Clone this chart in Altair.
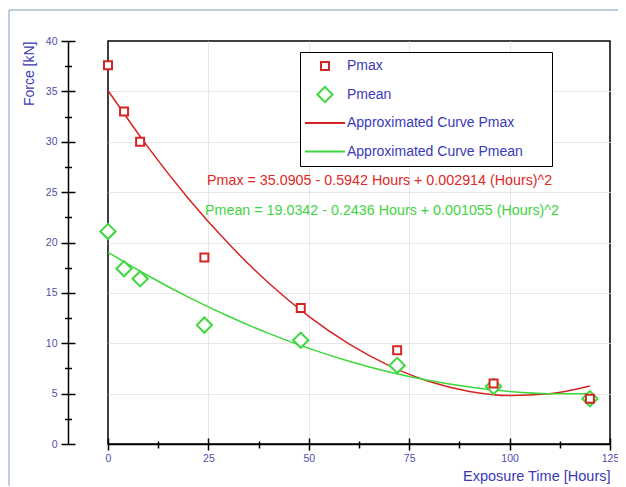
import altair as alt
import pandas as pd

# ---------------- data ----------------
HOURS = [0, 4, 8, 24, 48, 72, 96, 120]
PMAX = [37.6, 33.0, 30.0, 18.5, 13.5, 9.3, 6.0, 4.5]
PMEAN = [21.1, 17.4, 16.4, 11.8, 10.3, 7.8, 5.7, 4.5]

CURVE_HOURS = [0, 10, 20, 30, 40, 50, 60, 70, 80, 90, 100, 110, 120]
CURVE_PMAX = [35.09, 29.44, 24.37, 19.89, 15.98, 12.67, 9.93, 7.78, 6.20, 5.22, 4.81, 4.99, 5.75]
CURVE_PMEAN = [19.03, 16.70, 14.58, 12.68, 10.98, 9.49, 8.22, 7.15, 6.30, 5.66, 5.22, 5.00, 4.99]

SERIES = ["Pmax", "Pmean", "Approximated Curve Pmax", "Approximated Curve Pmean"]

X_MAJOR = [0, 25, 50, 75, 100, 125]
X_MINOR = [12.5, 37.5, 62.5, 87.5, 112.5]
Y_MAJOR = [0, 5, 10, 15, 20, 25, 30, 35, 40]
Y_MINOR = [2.5, 7.5, 12.5, 17.5, 22.5, 27.5, 32.5, 37.5]

EQ_PMAX = "Pmax = 35.0905 - 0.5942 Hours + 0.002914 (Hours)^2"
EQ_PMEAN = "Pmean = 19.0342 - 0.2436 Hours + 0.001055 (Hours)^2"

X_TITLE = "Exposure Time [Hours]"
Y_TITLE = "Force [kN]"

# ---------------- styling ----------------
FONT = "Liberation Sans"
RED = "#d42525"
GREEN = "#3cd83c"
TXT_RED = "#e02828"
TXT_GREEN = "#3fd43f"
BLUE = "#3a3ab8"
TICK_LBL = "#4f4fa8"
FRAME_BLUE = "#a9bcd6"
W, H = 502, 403
SYM = 1600  # symbol box 40 px; shapes below are drawn inside it
SQUARE = "M-0.2,-0.2H0.2V0.2H-0.2Z"
DIAMOND = "M-0.38,0L0,-0.38L0.38,0L0,0.38Z"
STROKE = "M-1,0H1"

pts = pd.DataFrame({
    "hours": HOURS + HOURS,
    "force": PMAX + PMEAN,
    "series": [SERIES[0]] * len(HOURS) + [SERIES[1]] * len(HOURS),
})
crv = pd.DataFrame({
    "hours": CURVE_HOURS + CURVE_HOURS,
    "force": CURVE_PMAX + CURVE_PMEAN,
    "series": [SERIES[2]] * len(CURVE_HOURS) + [SERIES[3]] * len(CURVE_HOURS),
})

xscale = alt.Scale(domain=[0, 125], nice=False, zero=False)
yscale = alt.Scale(domain=[0, 40], nice=False)
cscale = alt.Scale(domain=SERIES, range=[RED, GREEN, RED, GREEN])
sscale = alt.Scale(domain=SERIES, range=[SQUARE, DIAMOND, STROKE, STROKE])


def axis(**kw):
    base = dict(grid=False, domain=False, labels=False, ticks=False, title=None,
                tickColor="black", tickWidth=1.5)
    base.update(kw)
    return alt.Axis(**base)


legend = alt.Legend(
    orient="none", legendX=192, legendY=11,
    title="WW", titleOrient="right", titleOpacity=0, titleFontSize=11, titlePadding=4,
    strokeColor="black", fillColor="white", padding=4,
    clipHeight=20, rowPadding=8.5, labelOffset=1, symbolSize=SYM,
    labelFont=FONT, labelFontSize=14, labelColor=BLUE, labelLimit=400,
    symbolStrokeWidth=2,
)

# grid host (invisible)
grid = alt.Chart(pts).mark_point(opacity=0).encode(
    x=alt.X("hours:Q", scale=xscale,
            axis=axis(orient="bottom", grid=True, values=X_MAJOR[1:-1], gridColor="#e6e6e6")),
    y=alt.Y("force:Q", scale=yscale,
            axis=axis(orient="left", grid=True, values=Y_MAJOR[1:-1], gridColor="#e6e6e6")),
)

pmax_pts = alt.Chart(pts).transform_filter(alt.datum.series == SERIES[0]).mark_point(
    filled=True, fill="white", strokeWidth=2, opacity=1, size=SYM
).encode(
    x=alt.X("hours:Q", scale=xscale, axis=axis(
        orient="bottom", values=X_MAJOR, ticks=True, tickSize=6, domain=True,
        domainColor="black", domainWidth=1.5, labels=True, labelFlush=False,
        labelFont=FONT, labelFontSize=10.5, labelColor=TICK_LBL, labelPadding=3,
        title=X_TITLE, titleAnchor="end", titleFont=FONT, titleFontSize=14.5,
        titleFontWeight="normal", titleColor=BLUE, titlePadding=6)),
    y=alt.Y("force:Q", scale=yscale, axis=axis(
        orient="left", offset=40, values=Y_MAJOR, ticks=True, tickSize=7, domain=True,
        domainColor="black", domainWidth=1.5, labels=True,
        labelFont=FONT, labelFontSize=10.5, labelColor=TICK_LBL, labelPadding=4,
        title=Y_TITLE, titleAnchor="end", titleFont=FONT, titleFontSize=14,
        titleFontWeight="normal", titleColor=BLUE, titlePadding=9)),
    stroke=alt.Stroke("series:N", scale=cscale, legend=legend),
    shape=alt.Shape("series:N", scale=sscale, legend=legend),
)

pmean_pts = alt.Chart(pts).transform_filter(alt.datum.series == SERIES[1]).mark_point(
    filled=True, fill="white", strokeWidth=2, opacity=1, size=SYM
).encode(
    x=alt.X("hours:Q", scale=xscale, axis=axis(
        orient="top", offset=-H, values=X_MAJOR, ticks=True, tickSize=6)),
    y=alt.Y("force:Q", scale=yscale, axis=axis(
        orient="left", offset=33, values=Y_MAJOR, ticks=True, tickSize=7)),
    stroke=alt.Stroke("series:N", scale=cscale, legend=legend),
    shape=alt.Shape("series:N", scale=sscale, legend=legend),
)

pmax_crv = alt.Chart(crv).transform_filter(alt.datum.series == SERIES[2]).mark_line(
    strokeWidth=1.5, interpolate="monotone"
).encode(
    x=alt.X("hours:Q", scale=xscale, axis=axis(
        orient="bottom", values=X_MINOR, ticks=True, tickSize=4)),
    y=alt.Y("force:Q", scale=yscale, axis=axis(
        orient="left", offset=40, values=Y_MINOR, ticks=True, tickSize=3.5)),
    stroke=alt.Stroke("series:N", scale=cscale, legend=legend),
)

pmean_crv = alt.Chart(crv).transform_filter(alt.datum.series == SERIES[3]).mark_line(
    strokeWidth=1.5, interpolate="monotone"
).encode(
    x=alt.X("hours:Q", scale=xscale, axis=axis(
        orient="top", offset=-H, values=X_MINOR, ticks=True, tickSize=3)),
    y=alt.Y("force:Q", scale=yscale, axis=axis(
        orient="left", offset=36.5, values=Y_MINOR, ticks=True, tickSize=3.5)),
    stroke=alt.Stroke("series:N", scale=cscale, legend=legend),
)

eq1 = alt.Chart(alt.Data(values=[{"label": EQ_PMAX}])).mark_text(
    align="left", baseline="middle", font=FONT, fontSize=14.3, color=TXT_RED
).encode(x=alt.value(99), y=alt.value(140), text="label:N")

eq2 = alt.Chart(alt.Data(values=[{"label": EQ_PMEAN}])).mark_text(
    align="left", baseline="middle", font=FONT, fontSize=14.3, color=TXT_GREEN
).encode(x=alt.value(97), y=alt.value(170), text="label:N")

# page frame: top and left edges only
frame_top = alt.Chart(alt.Data(values=[{}])).mark_rule(
    stroke=FRAME_BLUE, strokeWidth=1.5
).encode(x=alt.value(-99), x2=alt.value(W + 30), y=alt.value(-31))
frame_left = alt.Chart(alt.Data(values=[{}])).mark_rule(
    stroke=FRAME_BLUE, strokeWidth=1.5
).encode(x=alt.value(-99), y=alt.value(-31), y2=alt.value(H + 80))

chart = alt.layer(
    frame_top, frame_left, grid, pmax_crv, pmean_crv, pmean_pts, pmax_pts, eq1, eq2
).resolve_axis(
    x="independent", y="independent"
).properties(
    width=W, height=H, autosize="none",
    padding={"left": 100, "top": 33, "right": 8, "bottom": 42},
).configure_view(
    stroke="black", strokeWidth=1.5
)

chart.save("out.html", embed_options={"renderer": "svg", "actions": False})
